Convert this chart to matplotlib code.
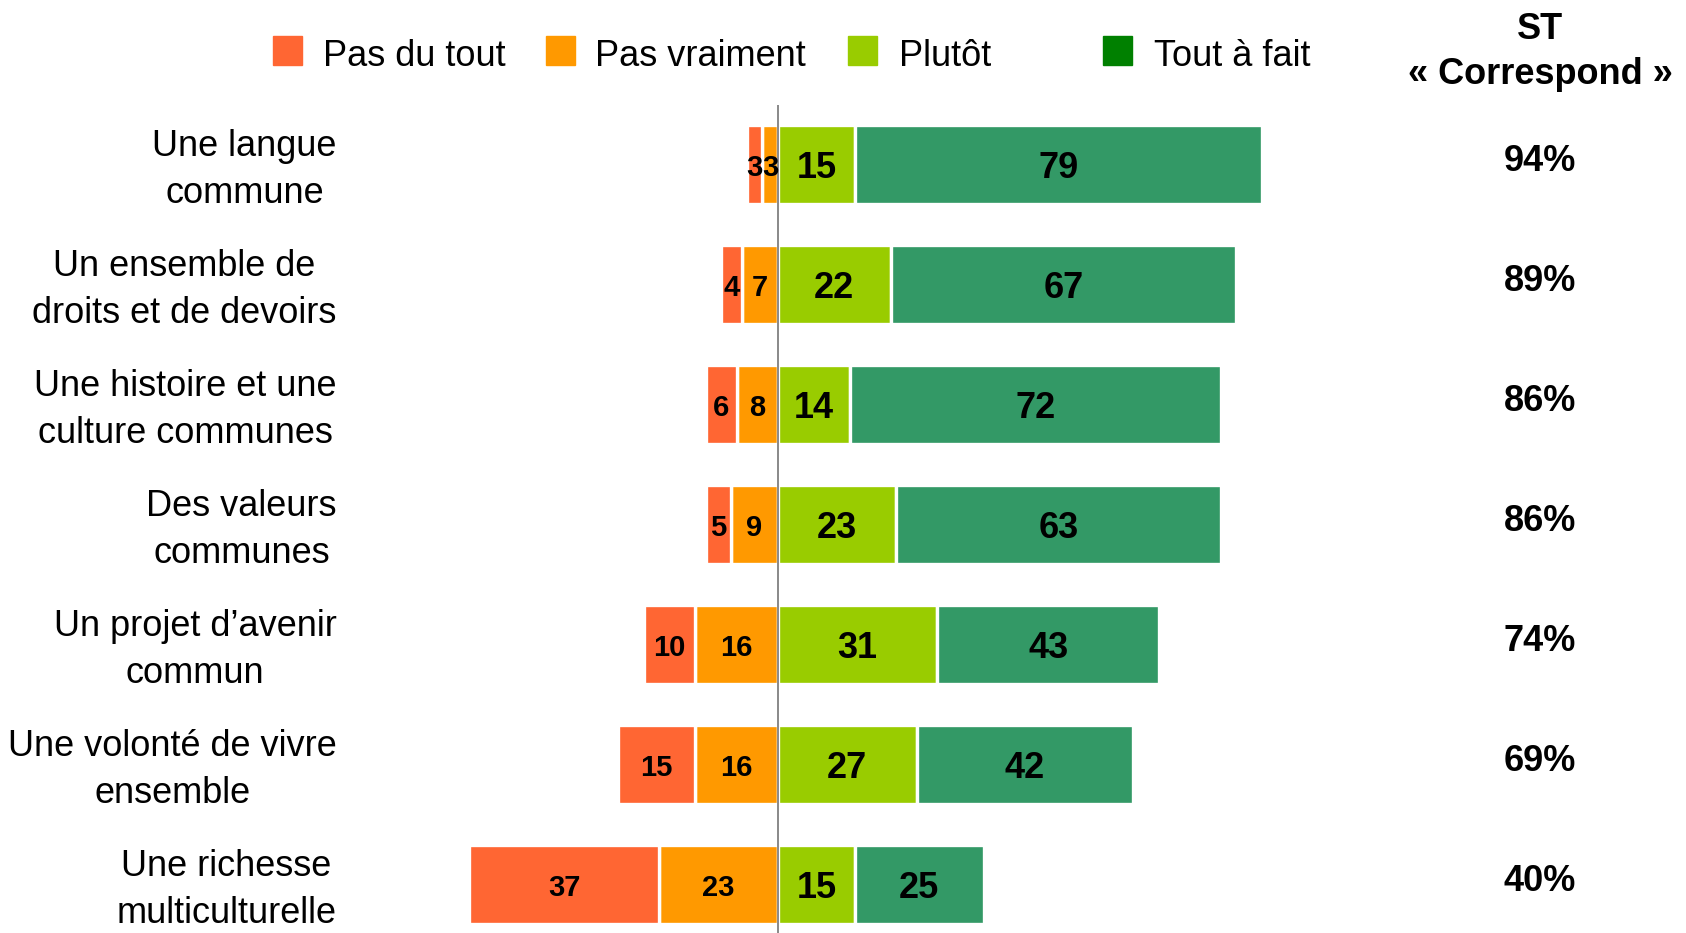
import matplotlib
matplotlib.use("Agg")
from matplotlib import pyplot as plt
from matplotlib.patches import Rectangle
import numpy as np

plt.rcParams["font.family"] = ["Liberation Sans", "DejaVu Sans"]

# data
items = [
    "Une langue\ncommune",
    "Un ensemble de\ndroits et de devoirs",
    "Une histoire et une\nculture communes",
    "Des valeurs\ncommunes",
    "Un projet d\u2019avenir\ncommun",
    "Une volont\u00e9 de vivre\nensemble",
    "Une richesse\nmulticulturelle",
]
pas_du_tout = [3, 4, 6, 5, 10, 15, 37]
pas_vraiment = [3, 7, 8, 9, 16, 16, 23]
plutot = [15, 22, 14, 23, 31, 27, 15]
tout_a_fait = [79, 67, 72, 63, 43, 42, 25]
st_correspond = ["94%", "89%", "86%", "86%", "74%", "69%", "40%"]
legend_labels = ["Pas du tout", "Pas vraiment", "Plut\u00f4t", "Tout \u00e0 fait"]

C_PDT = "#FF6633"
C_PV = "#FF9900"
C_PL = "#99CC00"
C_TAF = "#339966"
C_TAF_LEG = "#008000"

W, H = 1686, 933
fig = plt.figure(figsize=(W / 100, H / 100), dpi=100)

# axes geometry (pixels)
X0_PX = 777.7
PX_PER_UNIT = 5.15
XMIN, XMAX = -70, 110
ROW0_PX = 164.9
ROW_STEP = 120.0
YTOP, YBOT = -0.5, 6.4

ax_left = X0_PX + XMIN * PX_PER_UNIT
ax_width = (XMAX - XMIN) * PX_PER_UNIT
ax_top = ROW0_PX + YTOP * ROW_STEP
ax_bot = ROW0_PX + YBOT * ROW_STEP
ax = fig.add_axes([ax_left / W, 1 - ax_bot / H, ax_width / W, (ax_bot - ax_top) / H])
ax.set_xlim(XMIN, XMAX)
ax.set_ylim(YBOT, YTOP)
ax.axis("off")

y = np.arange(len(items))
pdt = np.array(pas_du_tout)
pv = np.array(pas_vraiment)
pl = np.array(plutot)
taf = np.array(tout_a_fait)

bar_kw = dict(height=0.66, edgecolor="white", linewidth=2.4)
ax.barh(y, -pv, left=0, color=C_PV, **bar_kw)
ax.barh(y, -pdt, left=-pv, color=C_PDT, **bar_kw)
ax.barh(y, pl, left=0, color=C_PL, **bar_kw)
ax.barh(y, taf, left=pl, color=C_TAF, **bar_kw)

ax.axvline(0, color="#808080", lw=1.3, zorder=5)

for i in y:
    ax.text(-pv[i] - pdt[i] / 2, i, str(pdt[i]), ha="center", va="center_baseline",
            fontsize=21, fontweight="bold", zorder=6)
    ax.text(-pv[i] / 2, i, str(pv[i]), ha="center", va="center_baseline",
            fontsize=21, fontweight="bold", zorder=6)
    ax.text(pl[i] / 2, i, str(pl[i]), ha="center", va="center_baseline",
            fontsize=26, fontweight="bold", zorder=6)
    ax.text(pl[i] + taf[i] / 2, i, str(taf[i]), ha="center", va="center_baseline",
            fontsize=26, fontweight="bold", zorder=6)

# category labels
for i, lab in enumerate(items):
    fig.text(336.6 / W, 1 - (ROW0_PX + i * ROW_STEP + 5) / H, lab, ha="right", va="center",
             multialignment="center", fontsize=26, linespacing=1.45)

# ST column
fig.text(1540 / W, 1 - 52 / H, "ST\n\u00ab Correspond \u00bb", ha="center", va="center",
         fontsize=26, fontweight="bold", linespacing=1.4)
for i, val in enumerate(st_correspond):
    fig.text(1540 / W, 1 - (ROW0_PX + i * ROW_STEP - 7) / H, val, ha="center",
             va="center_baseline", fontsize=26, fontweight="bold")

# legend
leg_sq = [273, 546, 848, 1103]
leg_tx = [322.6, 594.6, 899, 1154]
leg_colors = [C_PDT, C_PV, C_PL, C_TAF_LEG]
for sx, tx, col, lab in zip(leg_sq, leg_tx, leg_colors, legend_labels):
    fig.patches.append(Rectangle((sx / W, 1 - 64.5 / H), 29 / W, 29 / H,
                                 transform=fig.transFigure, color=col))
    fig.text(tx / W, 1 - 52 / H, lab, ha="left", va="center_baseline", fontsize=26)

fig.savefig("out.png", dpi=100)
